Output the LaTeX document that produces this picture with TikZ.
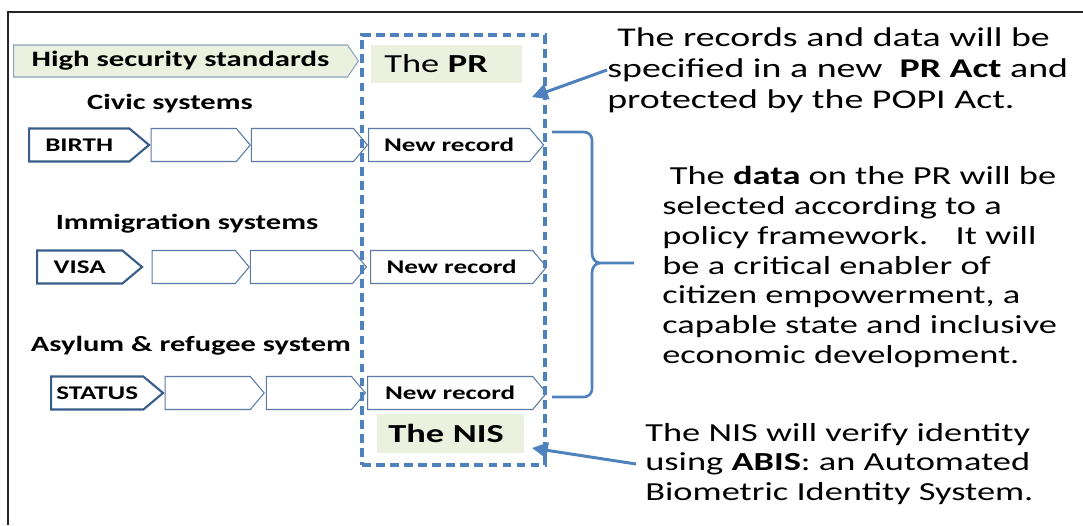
\documentclass[tikz,border=0pt]{standalone}
\usepackage{fontspec}
\setmainfont{Carlito}[FakeStretch=1.4]
\usetikzlibrary{positioning,shapes.symbols,arrows.meta}
\definecolor{dashblue}{HTML}{4F81BD}
\definecolor{chevdark}{HTML}{385D8A}
\definecolor{chevline}{HTML}{5A7AA6}
\definecolor{labelgreen}{HTML}{EBF1DE}
\definecolor{framegray}{HTML}{262626}
\tikzset{sys node/.style={signal,signal to=east,signal pointer angle=80,draw=chevdark,line width=1.2pt,fill=white,minimum height=0.66cm,inner sep=1pt,font=\fontsize{11}{13}\selectfont\bfseries},
flow node/.style={sys node,signal pointer angle=100,draw=chevline,line width=0.6pt},
title node/.style={fill=labelgreen,minimum height=0.77cm,inner xsep=0.26cm,text width=2.5cm,align=left,font=\fontsize{14.8}{17}\selectfont},
head text/.style={font=\fontsize{12.4}{14}\selectfont\bfseries},
note text/.style={align=left,inner sep=0pt,font=\fontsize{14.8}{17}\selectfont},
blue arrow/.style={draw=dashblue,line width=1.7pt,-{Triangle[length=9pt,width=9pt]}},
}
\begin{document}
\begin{tikzpicture}[x=0.02cm,y=-0.02cm]
\useasboundingbox (0,0) rectangle (1083,525);
\draw[framegray,line width=1.6pt] (1083,12) -- (8,12) -- (8,525);

% left column
\node[signal,signal to=east,signal pointer angle=111,fill=labelgreen,draw=chevline!70,line width=0.6pt,minimum width=6.9cm,minimum height=0.64cm,anchor=west,font=\fontsize{12.5}{14}\selectfont\bfseries] (hss) at (13,61) {High security standards};

\node[head text] (civic) at (170,104) {Civic systems};
\node[sys node,minimum width=2.4cm,anchor=west] (birth) at (28,145) {BIRTH};
\node[flow node,minimum width=1.98cm] (b2) [right=0pt of birth] {};
\node[flow node,minimum width=2.32cm] (b3) [right=0pt of b2] {};
\node[flow node,minimum width=3.5cm] (brec) [right=0pt of b3] {New record};

\node[head text] (immig) at (187,224) {Immigration systems};
\node[sys node,minimum width=2.1cm,anchor=west] (visa) at (36,267) {VISA};
\node[flow node,minimum width=1.94cm] (v2) [right=0.16cm of visa] {};
\node[flow node,minimum width=2.32cm] (v3) [right=0pt of v2] {};
\node[flow node,minimum width=3.52cm] (vrec) [right=0.06cm of v3] {New record};

\node[head text] (asylum) at (191,346) {Asylum \& refugee system};
\node[sys node,minimum width=2.24cm,anchor=west] (status) at (50,393) {STATUS};
\node[flow node,minimum width=1.98cm] (s2) [right=0pt of status] {};
\node[flow node,minimum width=1.98cm] (s3) [right=0.02cm of s2] {};
\node[flow node,minimum width=3.58cm] (srec) [right=0.02cm of s3] {New record};

% register frame
\node[draw=dashblue,line width=2pt,dash pattern=on 5pt off 3pt,minimum width=3.66cm,minimum height=8.6cm] (reg) at (453.5,250) {};
\node[title node,anchor=west] (prlabel) at (371,64) {The \textbf{PR}};
\node[title node,anchor=west,inner xsep=0.22cm] (nislabel) at (377,433.5) {\textbf{The NIS}};

% notes
\node[note text,anchor=west,font=\fontsize{15.4}{17.6}\selectfont] (prnote) at (607,70) {\hspace*{0.2cm}The records and data will be\\specified in a new \ \textbf{PR Act} and\\protected by the POPI Act.};
\node[note text,anchor=west] (datanote) at (662,267) {\hspace*{0.15cm}The \textbf{data} on the PR will be\\selected according to a\\policy framework. \ \ It will\\be a critical enabler of\\citizen empowerment, a\\capable state and inclusive\\economic development.};
\node[note text,anchor=west] (nisnote) at (645,464) {The NIS will verify identity\\using \textbf{ABIS}: an Automated\\Biometric Identity System.};

\coordinate (prtip) at (532,97);
\coordinate (nistip) at (532,448);
\draw[blue arrow] (prnote.west) -- (prtip);
\draw[blue arrow] ([xshift=-0.18cm]nisnote.west) -- (nistip);

% brace
\draw[dashblue,line width=1.5pt] (552,132) -- (584,132) to[out=0,in=90] (592,140) -- (592,253) to[out=-90,in=180] (600,263) -- (634,263);
\draw[dashblue,line width=1.5pt] (552,397) -- (584,397) to[out=0,in=-90] (592,389) -- (592,273) to[out=90,in=180] (600,263);
\end{tikzpicture}
\end{document}
